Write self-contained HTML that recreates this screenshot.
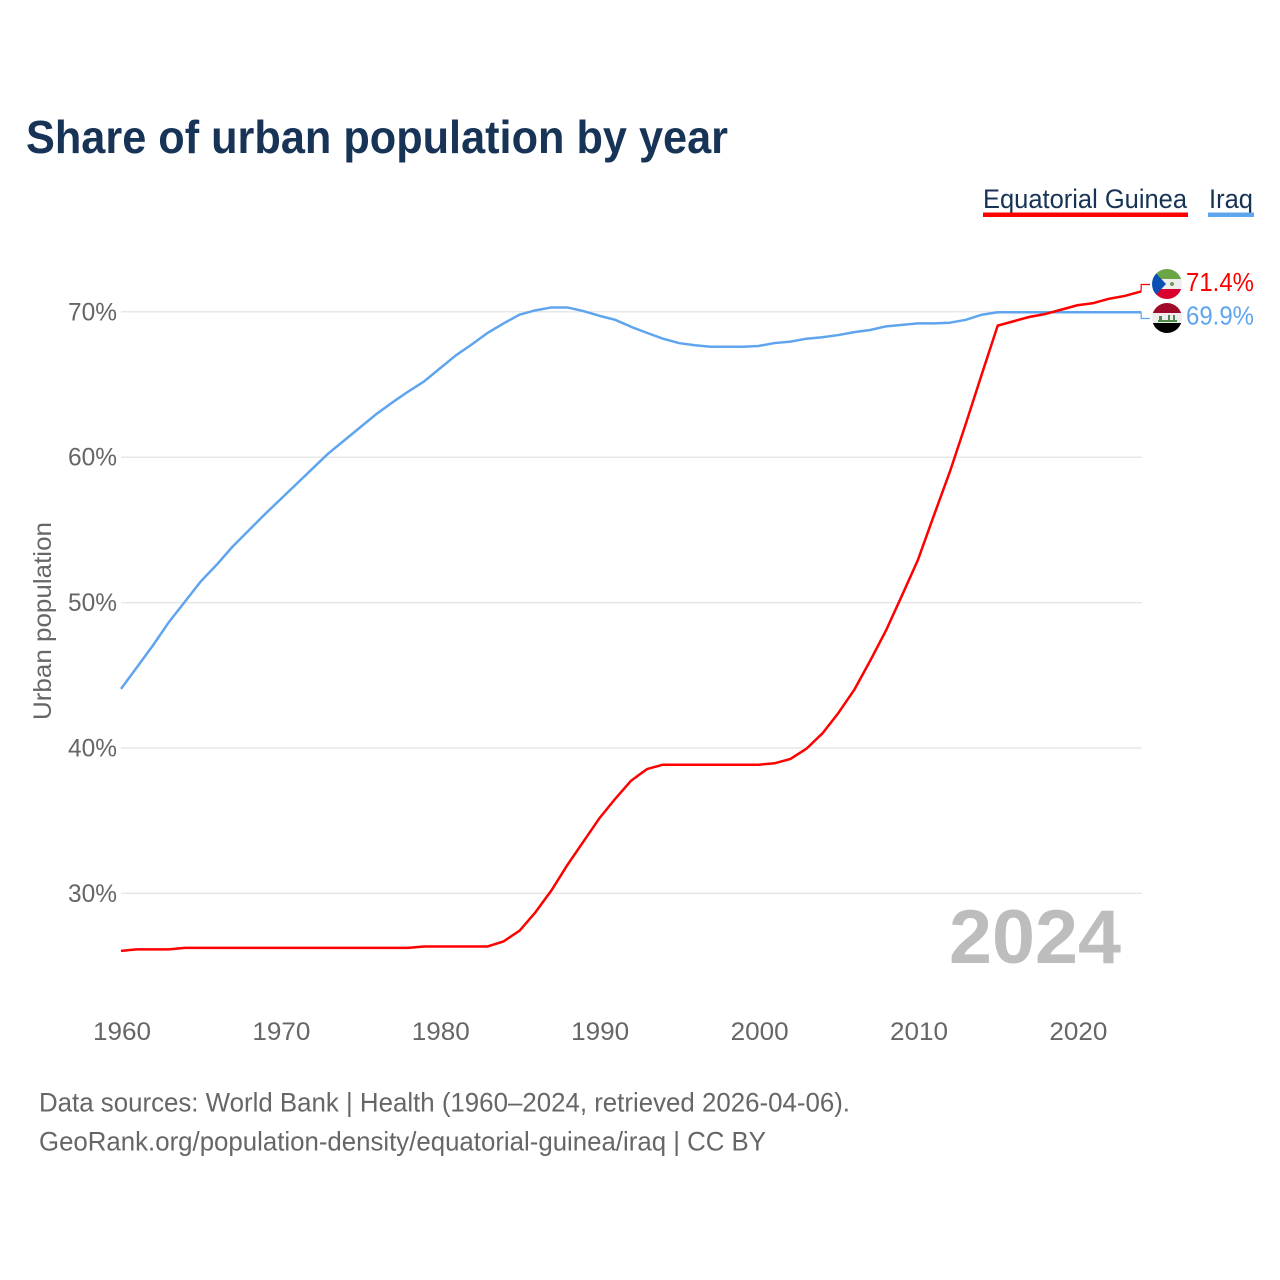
<!DOCTYPE html>
<html lang="en">
<head>
<meta charset="utf-8">
<title>Share of urban population by year</title>
<style>
html,body{margin:0;padding:0;background:#fff;width:1280px;height:1280px;overflow:hidden}
svg{display:block}
text{font-family:"Liberation Sans",sans-serif}
</style>
</head>
<body>
<svg id="chart" xmlns="http://www.w3.org/2000/svg" width="1280" height="1280" viewBox="0 0 1280 1280">
  <defs>
    <clipPath id="clip-gq"><circle cx="1167" cy="284" r="15"/></clipPath>
    <clipPath id="clip-iq"><circle cx="1167" cy="318" r="15"/></clipPath>
  </defs>
  <text x="26" y="153" font-size="46" font-weight="700" fill="#173355" textLength="702" lengthAdjust="spacingAndGlyphs">Share of urban population by year</text>

  <g>
    <g>
      <text x="983" y="208" font-size="27" fill="#173355" textLength="204" lengthAdjust="spacingAndGlyphs">Equatorial Guinea</text>
      <rect x="983" y="212.5" width="205" height="4.5" fill="#ff0000"/>
    </g>
    <g>
      <text x="1209" y="208" font-size="27" fill="#173355" textLength="44" lengthAdjust="spacingAndGlyphs">Iraq</text>
      <rect x="1208" y="212.5" width="46" height="4.5" fill="#5fa5ee"/>
    </g>
  </g>

  <g id="grid"></g>
  <g id="y-ticks"></g>
  <g id="x-ticks"></g>

  <text transform="translate(51 621) rotate(-90)" text-anchor="middle" font-size="25" fill="#666666" textLength="198" lengthAdjust="spacingAndGlyphs">Urban population</text>

  <text x="949" y="963" font-size="76" font-weight="700" fill="#bdbdbd" textLength="172" lengthAdjust="spacingAndGlyphs">2024</text>

  <g id="series"></g>
  <g id="leaders"></g>

  <g clip-path="url(#clip-gq)">
    <rect x="1152" y="269" width="30" height="10" fill="#6ca644"/>
    <rect x="1152" y="279" width="30" height="10" fill="#eeeeee"/>
    <rect x="1152" y="289" width="30" height="10" fill="#d8002c"/>
    <polygon points="1152,269 1166,284 1152,299" fill="#0a4fb4"/>
    <circle cx="1172" cy="284" r="2" fill="#6f9a60"/>
  </g>
  <g clip-path="url(#clip-iq)">
    <rect x="1152" y="303" width="30" height="10" fill="#a00b2a"/>
    <rect x="1152" y="313" width="30" height="10" fill="#eeeeee"/>
    <rect x="1152" y="323" width="30" height="10" fill="#000000"/>
    <rect x="1158" y="320" width="19" height="2" fill="#4f8a4a"/>
    <rect x="1159" y="316" width="3" height="5" fill="#4f8a4a"/>
    <rect x="1168" y="315" width="2" height="6" fill="#4f8a4a"/>
    <rect x="1173" y="315" width="2" height="6" fill="#4f8a4a"/>
  </g>

  <text id="value-gq" x="1186" y="291" font-size="26" fill="#ff0000" textLength="68" lengthAdjust="spacingAndGlyphs"></text>
  <text id="value-iq" x="1186" y="324.5" font-size="26" fill="#5fa5ee" textLength="68" lengthAdjust="spacingAndGlyphs"></text>

  <text x="39" y="1111.5" font-size="27" fill="#666666" textLength="811" lengthAdjust="spacingAndGlyphs">Data sources: World Bank | Health (1960–2024, retrieved 2026-04-06).</text>
  <text x="39" y="1150.5" font-size="27" fill="#666666" textLength="727" lengthAdjust="spacingAndGlyphs">GeoRank.org/population-density/equatorial-guinea/iraq | CC BY</text>
</svg>
<script>
const firstYear = 1960;
const xTickYears = [1960, 1970, 1980, 1990, 2000, 2010, 2020];
const yTickValues = [30, 40, 50, 60, 70];
const equatorialGuinea = [
  26.05, 26.15, 26.15, 26.15, 26.25, 26.25, 26.25, 26.25, 26.25, 26.25,
  26.25, 26.25, 26.25, 26.25, 26.25, 26.25, 26.25, 26.25, 26.25, 26.35,
  26.35, 26.35, 26.35, 26.35, 26.7, 27.43, 28.7, 30.2, 31.95, 33.55,
  35.15, 36.5, 37.75, 38.55, 38.85, 38.85, 38.85, 38.85, 38.85, 38.85,
  38.85, 38.95, 39.25, 39.95, 41.0, 42.4, 44.0, 46.0, 48.1, 50.5,
  52.95, 56.0, 59.0, 62.3, 65.7, 69.05, 69.35, 69.65, 69.85, 70.15,
  70.45, 70.6, 70.9, 71.1, 71.4
];
const iraq = [
  44.07, 45.55, 47.05, 48.65, 50.05, 51.45, 52.6, 53.85, 54.95, 56.05,
  57.1, 58.15, 59.2, 60.25, 61.15, 62.05, 62.95, 63.75, 64.5, 65.2,
  66.1, 67.0, 67.75, 68.55, 69.2, 69.8, 70.1, 70.3, 70.3, 70.05,
  69.73, 69.45, 68.97, 68.55, 68.15, 67.85, 67.7, 67.6, 67.6, 67.6,
  67.65, 67.85, 67.95, 68.15, 68.25, 68.4, 68.6, 68.75, 69.0, 69.1,
  69.2, 69.2, 69.25, 69.45, 69.8, 69.97, 69.97, 69.97, 69.97, 69.97,
  69.97, 69.97, 69.97, 69.97, 69.97
];

const SVG_NS = 'http://www.w3.org/2000/svg';
function xScale(year) { return 121 + (year - 1960) * 15.94; }
function yScale(value) { return 311.8 + (70 - value) * 14.54; }
function make(tag, attrs, parent) {
  const el = document.createElementNS(SVG_NS, tag);
  for (const k in attrs) el.setAttribute(k, attrs[k]);
  parent.appendChild(el);
  return el;
}

const grid = document.getElementById('grid');
const yTicks = document.getElementById('y-ticks');
const xTicks = document.getElementById('x-ticks');
const seriesGroup = document.getElementById('series');
const leaders = document.getElementById('leaders');

yTickValues.forEach(function (v) {
  const line = make('line', { x1: 121, x2: 1142, y1: yScale(v), y2: yScale(v), stroke: '#e7e7e7', 'stroke-width': 1.5 }, grid);
  
  
  const label = make('text', { x: 68, y: yScale(v) + 8.5, 'font-size': 25, fill: '#666666', textLength: 49, lengthAdjust: 'spacingAndGlyphs' }, yTicks);
  label.textContent = v + '%';
  
  
});

xTickYears.forEach(function (y) {
  const label = make('text', { x: xScale(y) + 1, y: 1040, 'font-size': 25, fill: '#666666', 'text-anchor': 'middle', textLength: 58, lengthAdjust: 'spacingAndGlyphs' }, xTicks);
  label.textContent = String(y);
  
  
});

function linePoints(values) {
  return values.map(function (v, i) {
    return xScale(firstYear + i).toFixed(2) + ',' + yScale(v).toFixed(2);
  }).join(' ');
}

const iraqLine = make('polyline', { points: linePoints(iraq), fill: 'none', stroke: '#5fa5ee', 'stroke-width': 2.5, 'stroke-linejoin': 'round' }, seriesGroup);



const guineaLine = make('polyline', { points: linePoints(equatorialGuinea), fill: 'none', stroke: '#ff0000', 'stroke-width': 2.5, 'stroke-linejoin': 'round' }, seriesGroup);



const endX = xScale(firstYear + iraq.length - 1);
const guineaEnd = equatorialGuinea[equatorialGuinea.length - 1];
const iraqEnd = iraq[iraq.length - 1];

const guineaLeader = make('polyline', { points: endX + ',' + yScale(guineaEnd) + ' ' + endX + ',284.5 1150,284.5', fill: 'none', stroke: '#ff0000', 'stroke-width': 1.2 }, leaders);



const iraqLeader = make('polyline', { points: endX + ',' + yScale(iraqEnd) + ' ' + endX + ',318.5 1150,318.5', fill: 'none', stroke: '#5fa5ee', 'stroke-width': 1.2 }, leaders);



document.getElementById('value-gq').textContent = guineaEnd.toFixed(1) + '%';
document.getElementById('value-iq').textContent = (Math.floor(iraqEnd * 10) / 10).toFixed(1) + '%';
</script>
</body>
</html>
